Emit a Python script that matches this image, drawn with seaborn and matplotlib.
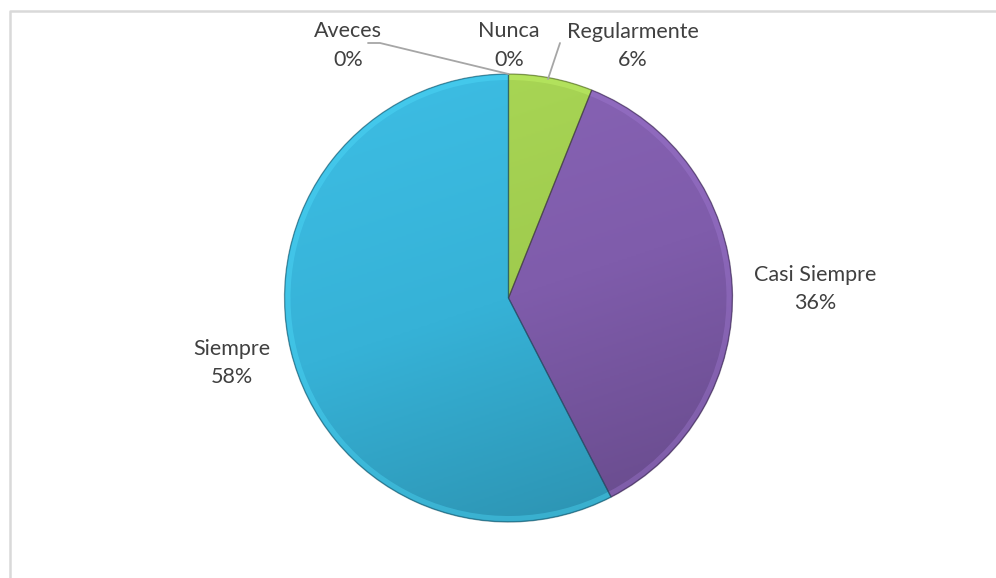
import numpy as np
import matplotlib
matplotlib.use("Agg")
import matplotlib.pyplot as plt
import seaborn as sns
from copy import copy
from matplotlib.patches import Wedge
from matplotlib.colors import LinearSegmentedColormap, to_rgb

# Survey responses (count of answers per category)
categories = ["Nunca", "Aveces", "Regularmente", "Casi Siempre", "Siempre"]
counts = [0, 0, 2, 12, 19]
slice_colors = ["#4F81BD", "#C0504D", "#9FCB4E", "#7F5CAB", "#36B2D7"]

sns.set_theme(style="white")
plt.rcParams["font.family"] = ["Lato", "DejaVu Sans"]

W, H = 996, 578
fig = plt.figure(figsize=(W / 100, H / 100), dpi=100)
ax = fig.add_axes([0, 0, 1, 1])

cx, cy, r = 508.5, H - 298, 224

wedges, _ = ax.pie(counts, colors=slice_colors, startangle=90, counterclock=False,
                   radius=r, center=(cx, cy), frame=True,
                   wedgeprops=dict(linewidth=0))
ax.set_xlim(0, W)
ax.set_ylim(0, H)
ax.set_aspect("equal")
ax.axis("off")

# Gentle lighting inside each wedge plus a soft highlight along the rim
yy, xx = np.mgrid[0:1:300j, 0:1:300j]
for w, c, n in zip(wedges, slice_colors, counts):
    if n == 0:
        continue
    base = np.array(to_rgb(c))
    light = np.clip(base * 1.04 + 0.02, 0, 1)
    dark = base * 0.80
    cmap = LinearSegmentedColormap.from_list("shade", [light, base, dark])
    grad = 0.25 * xx + 0.75 * yy
    im = ax.imshow(grad, cmap=cmap, extent=(cx - r, cx + r, cy - r, cy + r),
                   origin="upper", zorder=w.get_zorder() + 0.1, interpolation="bilinear")
    im.set_clip_path(w)

    rim = Wedge(w.center, w.r - 1, w.theta1, w.theta2, width=5,
                facecolor=np.clip(base * 1.15 + 0.08, 0, 1), edgecolor="none",
                alpha=0.35, zorder=w.get_zorder() + 0.2)
    ax.add_patch(rim)

    edge = copy(w)
    edge.set_facecolor("none")
    edge.set_edgecolor(base * 0.45)
    edge.set_linewidth(0.9)
    edge.set_alpha(0.55)
    edge.set_zorder(w.get_zorder() + 0.3)
    ax.add_patch(edge)

total = sum(counts)
pct = [round(100 * v / total) for v in counts]

text_kw = dict(fontsize=15.5, color="#404040", ha="center", va="center", linespacing=1.55)
label_pos = {
    "Aveces": (348, 45.5),
    "Nunca": (509, 45.5),
    "Regularmente": (633, 46),
    "Casi Siempre": (815, 289),
    "Siempre": (232, 363),
}
for name, p in zip(categories, pct):
    x, y = label_pos[name]
    ax.text(x, H - y, f"{name}\n{p}%", **text_kw)

# Leader lines for the labels sitting away from their slices
top = (cx, cy + r)
ax.plot([368, 380, top[0]], [H - 43, H - 43, top[1]], color="#a6a6a6", lw=1.3, zorder=5)
ax.plot([560, 548], [H - 43, H - 79], color="#a6a6a6", lw=1.3, zorder=5)

# Chart area border
ax.plot([10, 10, W + 5], [-5, H - 11, H - 11], color="#d9d9d9", lw=1.8, clip_on=False)

fig.savefig("out.png", dpi=100)
